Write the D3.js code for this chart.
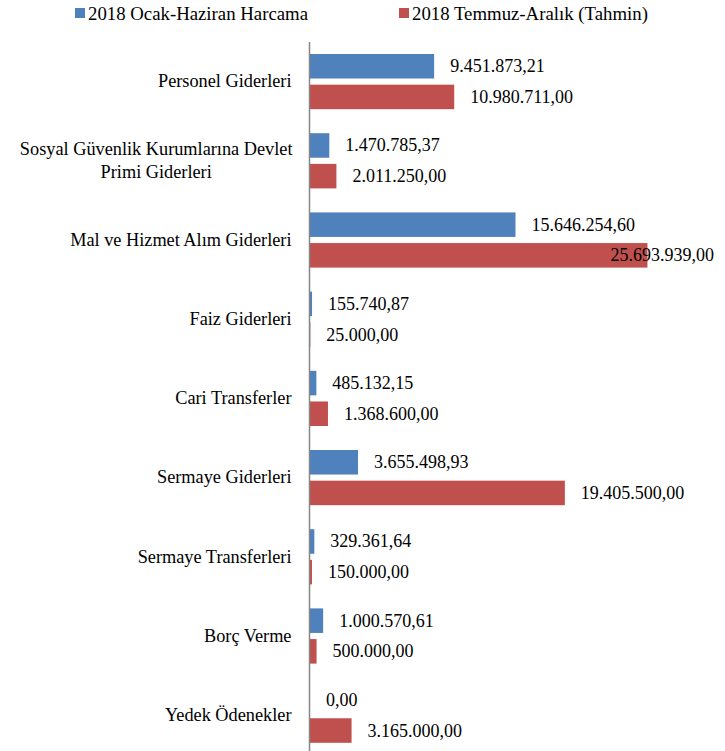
<!DOCTYPE html>
<html>
<head>
<meta charset="utf-8">
<style>
  body { margin: 0; background: #fff; }
</style>
<script src="https://cdn.jsdelivr.net/npm/d3@7"></script>
</head>
<body>
<div id="chart"></div>
<script>
// data
var categories = [
  "Personel Giderleri",
  "Sosyal Güvenlik Kurumlarına Devlet|Primi Giderleri",
  "Mal ve Hizmet Alım Giderleri",
  "Faiz Giderleri",
  "Cari Transferler",
  "Sermaye Giderleri",
  "Sermaye Transferleri",
  "Borç Verme",
  "Yedek Ödenekler"
];
var seriesNames = ["2018 Ocak-Haziran Harcama", "2018 Temmuz-Aralık (Tahmin)"];
var harcama = [9451873.21, 1470785.37, 15646254.60, 155740.87, 485132.15, 3655498.93, 329361.64, 1000570.61, 0];
var tahmin = [10980711.00, 2011250.00, 25693939.00, 25000.00, 1368600.00, 19405500.00, 150000.00, 500000.00, 3165000.00];
var colors = ["#4F81BD", "#C0504D"];

var W = 725, H = 751;
var FONT = "'Liberation Serif', 'Times New Roman', serif";
var plot = {left: 310, right: 704, top: 42, bottom: 42 + 9 * 79.2};

var trLocale = d3.formatLocale({decimal: ",", thousands: ".", grouping: [3], currency: ["", " TL"]});
var fmt = trLocale.format(",.2f");

var svg = d3.select("#chart").append("svg")
  .attr("width", W).attr("height", H)
  .style("font-family", FONT);

var y0 = d3.scaleBand().domain(categories).range([plot.top, plot.bottom]);
var y1 = d3.scaleBand().domain([0, 1]).range([12, y0.bandwidth() - 12]).paddingInner(0.2);
var x = d3.scaleLinear().domain([0, 30000000]).range([plot.left, plot.right]);

var rows = categories.map(function(c, i) {
  return {cat: c, vals: [harcama[i], tahmin[i]]};
});

// bars
var groups = svg.selectAll("g.cat").data(rows).enter().append("g")
  .attr("class", "cat")
  .attr("transform", function(d) { return "translate(0," + y0(d.cat) + ")"; });

groups.selectAll("rect").data(function(d) { return d.vals; }).enter().append("rect")
  .attr("x", x(0))
  .attr("y", function(d, j) { return y1(j); })
  .attr("width", function(d) { return x(d) - x(0); })
  .attr("height", y1.bandwidth())
  .attr("fill", function(d, j) { return colors[j]; });

// value labels (pushed back inside when they would run off the plot)
groups.selectAll("text.val").data(function(d) { return d.vals; }).enter().append("text")
  .attr("class", "val")
  .style("font-family", FONT)
  .style("font-size", "18px")
  .attr("dominant-baseline", "central")
  .attr("y", function(d, j) { return y1(j) + y1.bandwidth() / 2; })
  .text(function(d) { return fmt(d); })
  .attr("x", function(d) {
    var w = this.getComputedTextLength();
    return Math.min(x(d) + 16, 714 - w);
  });

// category axis
var yAxis = d3.axisLeft(y0).tickSize(0).tickSizeOuter(0).tickPadding(18);
var ax = svg.append("g")
  .attr("transform", "translate(" + (plot.left - 0.5) + ",0)")
  .call(yAxis);
ax.attr("font-family", null).attr("font-size", null);
ax.select(".domain").attr("stroke", "#868686").attr("stroke-width", 1.5)
  .attr("d", "M0," + plot.top + "V" + H);
ax.selectAll(".tick text")
  .style("font-family", FONT)
  .style("font-size", "18.3px")
  .attr("fill", "#000")
  .each(function(d) {
    var lines = d.split("|");
    if (lines.length < 2) return;
    var t = d3.select(this).text(null).attr("dy", null).attr("text-anchor", "middle");
    var spans = lines.map(function(l, k) {
      return t.append("tspan").attr("dominant-baseline", "central")
        .attr("y", (k - (lines.length - 1) / 2) * 23).text(l);
    });
    var maxW = d3.max(spans, function(s) { return s.node().getComputedTextLength(); });
    spans.forEach(function(s) { s.attr("x", -17 - maxW / 2); });
  });

// legend
var legX = [75, 399];
var leg = svg.selectAll("g.leg").data(seriesNames).enter().append("g")
  .attr("class", "leg")
  .attr("transform", function(d, i) { return "translate(" + legX[i] + ",8)"; });
leg.append("rect").attr("width", 10).attr("height", 10)
  .attr("fill", function(d, i) { return colors[i]; });
leg.append("text").attr("x", 13).attr("y", 5)
  .attr("dominant-baseline", "central")
  .style("font-family", FONT)
  .style("font-size", "18.8px")
  .text(function(d) { return d; });
</script>
</body>
</html>
